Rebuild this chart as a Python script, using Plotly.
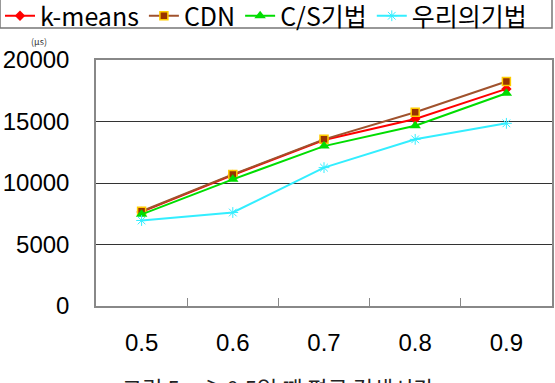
import plotly.graph_objects as go

categories = ["0.5", "0.6", "0.7", "0.8", "0.9"]
kmeans = [7650, 10650, 13500, 15200, 17650]
cdn = [7700, 10700, 13550, 15750, 18250]
cs = [7450, 10300, 13000, 14650, 17300]
ours = [6950, 7600, 11250, 13550, 14850]
y_ticks = [0, 5000, 10000, 15000, 20000]
y_tick_text = ["0", "5000", "10000", "15000", "20000"]

W, H = 555, 383
L, R, T, B = 96, 3, 60, 77
pw, ph = W - L - R, H - T - B

def px(xp):
    return (xp - L) / pw

def py(yp):
    return (H - B - yp) / ph

num_font = "Liberation Sans, Arial, sans-serif"
kr_font = "Noto Sans CJK KR, sans-serif"

fig = go.Figure()
fig.add_trace(go.Scatter(x=categories, y=kmeans, name="k-means", mode="lines+markers",
                         line=dict(color="#FF0000", width=2),
                         marker=dict(symbol="diamond", size=8, color="#FF0000")))
fig.add_trace(go.Scatter(x=categories, y=cdn, name="CDN", mode="lines+markers",
                         line=dict(color="#A0522D", width=2),
                         marker=dict(symbol="square", size=8, color="#993300",
                                     line=dict(color="#FFCC00", width=1.5))))
fig.add_trace(go.Scatter(x=categories, y=cs, name="C/S기법", mode="lines+markers",
                         line=dict(color="#00DD00", width=2),
                         marker=dict(symbol="triangle-up", size=10, color="#00DD00")))
fig.add_trace(go.Scatter(x=categories, y=ours, name="우리의기법", mode="lines+markers",
                         line=dict(color="#33EEFF", width=2),
                         marker=dict(symbol="asterisk-open", size=9, color="#33EEFF",
                                     line=dict(color="#33EEFF", width=1))))

fig.update_layout(
    width=W, height=H,
    margin=dict(l=L, r=R, t=T, b=B, autoexpand=False),
    paper_bgcolor="white", plot_bgcolor="white",
    font=dict(family=num_font, size=24, color="#000000"),
    showlegend=True,
    legend=dict(orientation="h", x=px(0), y=py(-7), xanchor="left", yanchor="top",
                font=dict(family=kr_font, size=25, color="#000000"),
                bgcolor="rgba(0,0,0,0)", borderwidth=0,
                itemwidth=30, tracegroupgap=0),
    xaxis=dict(type="category", range=[-0.5, 4.5], showgrid=False,
               showline=True, linecolor="#888888", linewidth=1.5, mirror=True,
               ticks="inside", tickson="boundaries", ticklen=8, tickcolor="#888888",
               tickfont=dict(family=num_font, size=24), ticklabelstandoff=14,
               fixedrange=True),
    yaxis=dict(range=[0, 20000], tickvals=y_ticks, ticktext=y_tick_text,
               showgrid=True, gridcolor="#333333",
               gridwidth=1, zeroline=False,
               showline=True, linecolor="#888888", linewidth=1.5, mirror=True,
               ticks="", tickfont=dict(family=num_font, size=24), ticklabelstandoff=20,
               fixedrange=True),
    shapes=[dict(type="rect", xref="paper", yref="paper",
                 x0=px(0), x1=px(552), y0=py(28), y1=py(-2),
                 line=dict(color="#777777", width=1.5), fillcolor="rgba(0,0,0,0)")],
    annotations=[
        dict(text="(μs)", xref="paper", yref="paper", x=px(39), y=py(41),
             xanchor="center", yanchor="middle", showarrow=False,
             font=dict(family=kr_font, size=9, color="#333333")),
        dict(text="그림 5. μ≥0.5일 때 평균 검색시간", xref="paper", yref="paper",
             x=px(278), y=py(369), xanchor="center", yanchor="top", showarrow=False,
             font=dict(family=kr_font, size=22, color="#222222")),
    ],
)

fig.write_html("out.html")
